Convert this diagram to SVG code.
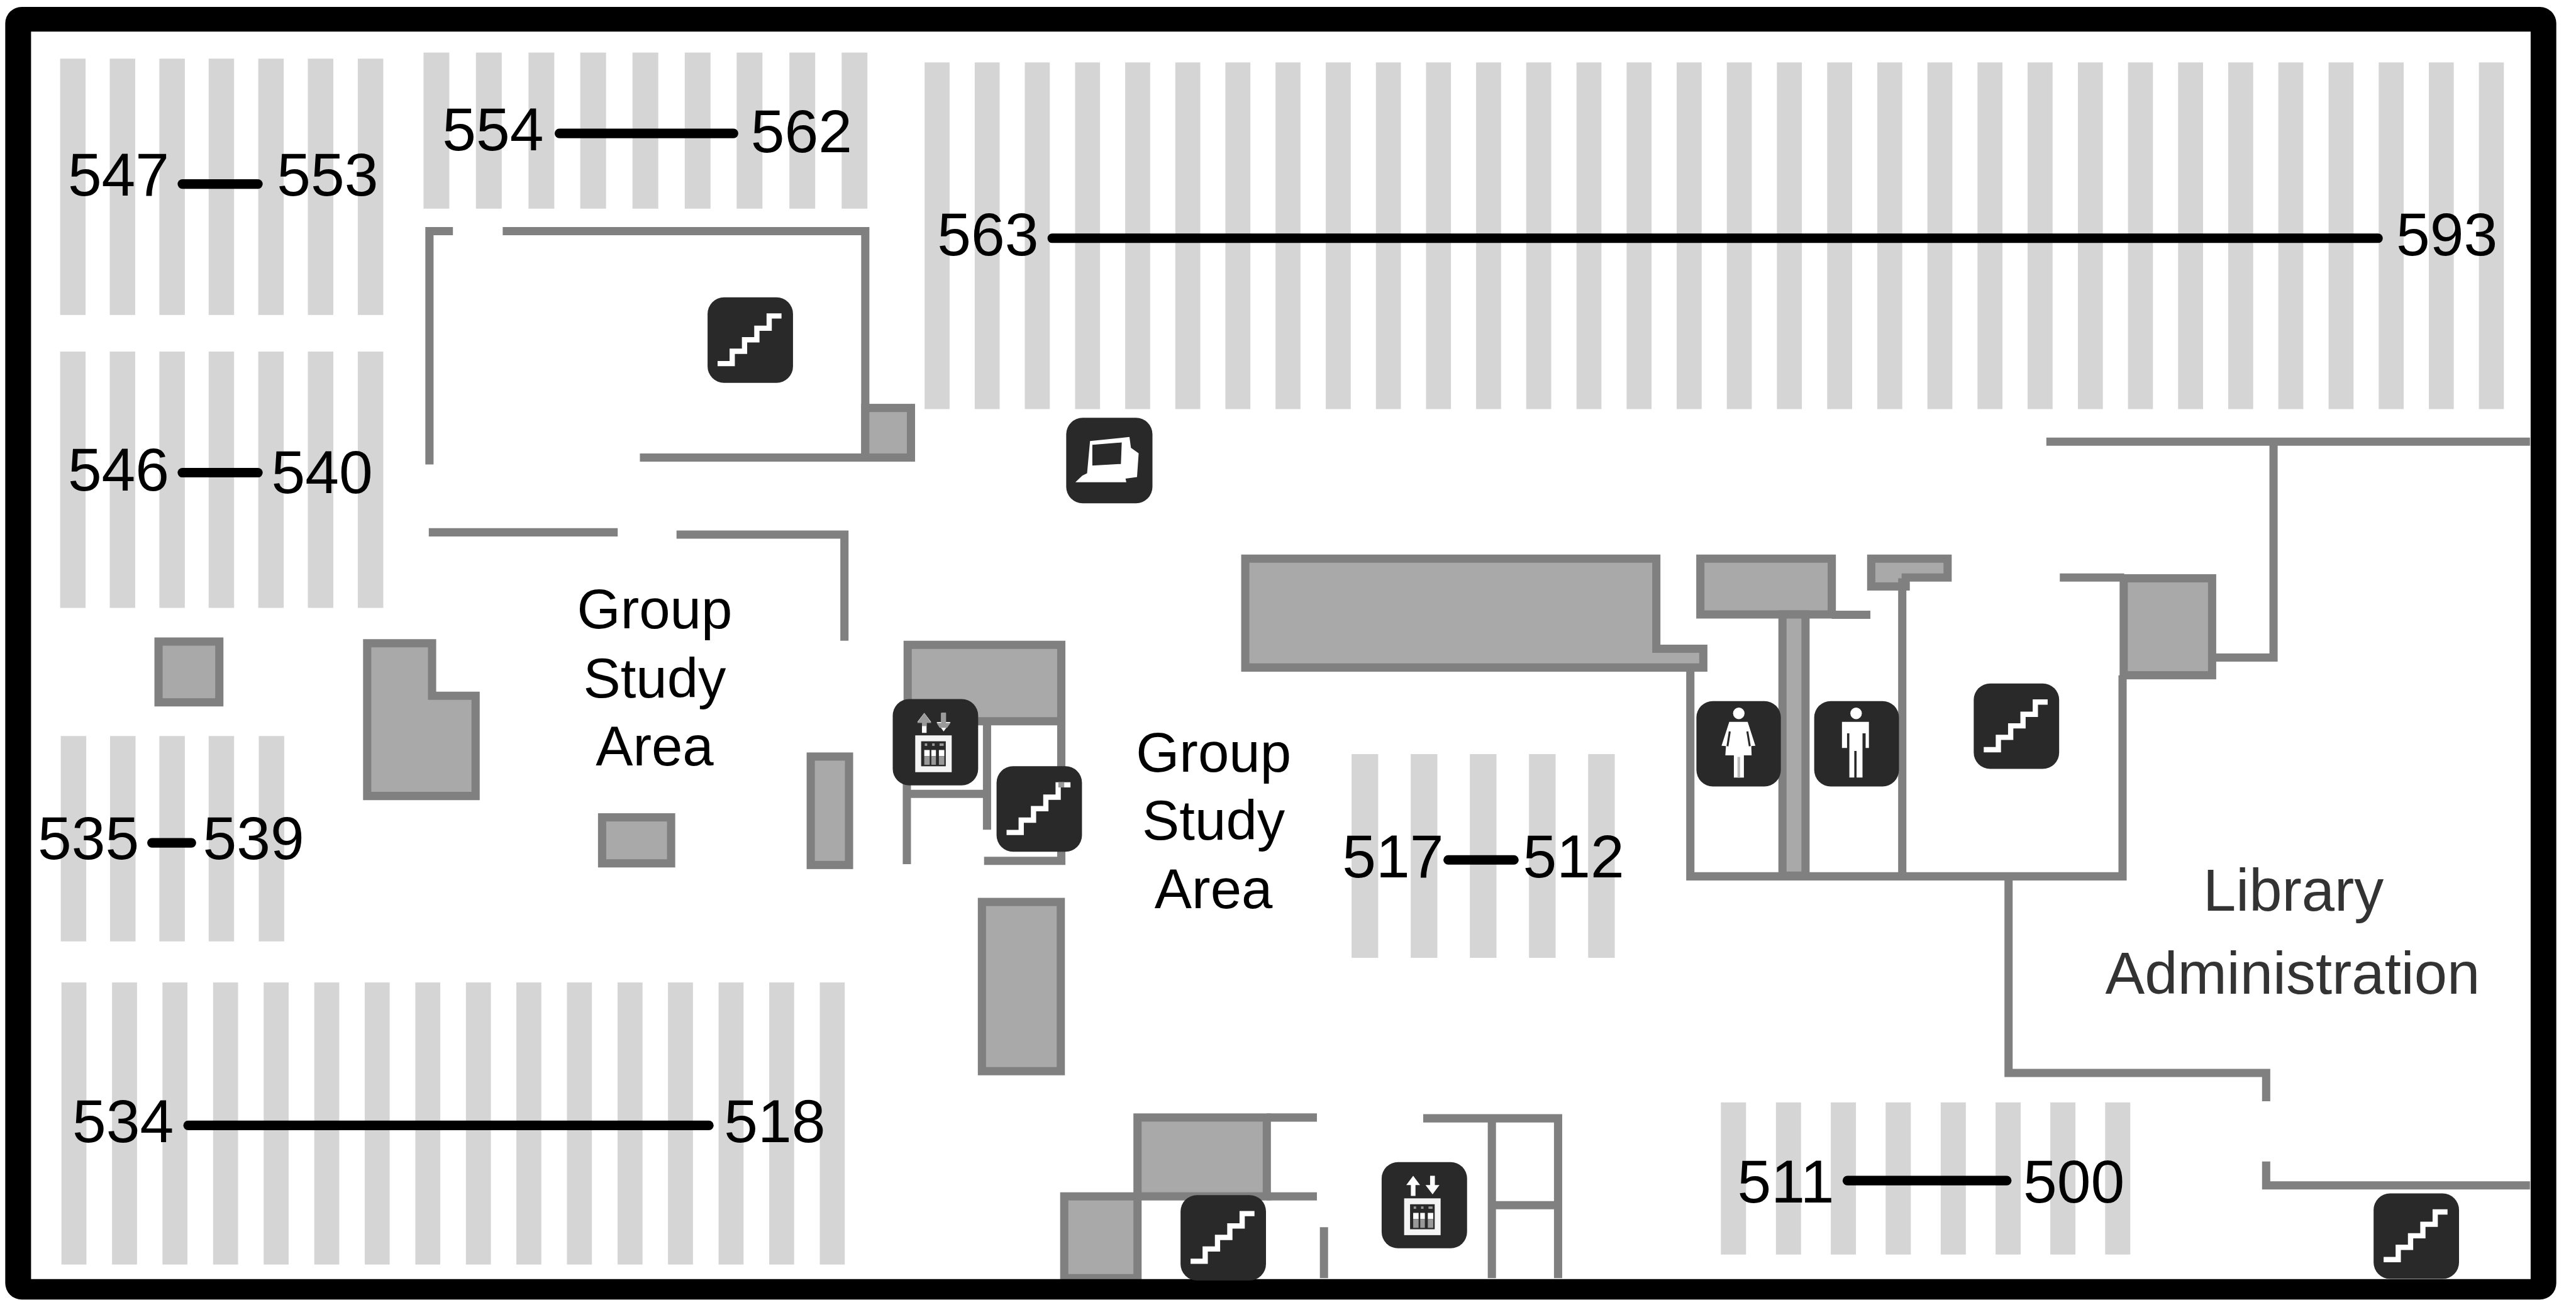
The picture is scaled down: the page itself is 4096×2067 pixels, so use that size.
<svg xmlns="http://www.w3.org/2000/svg" width="4096" height="2067" viewBox="0 0 4096 2067">
<style>
.b{fill:#d5d5d5}
.w{fill:none;stroke:#808080;stroke-width:5;stroke-linejoin:miter}
.f{fill:#a9a9a9;stroke:#808080;stroke-width:5}
.c{stroke:#000;stroke-width:5.8;stroke-linecap:round;fill:none}
.n{font-family:"Liberation Sans",Arial,sans-serif;font-size:37px;fill:#000}
.t{font-family:"Liberation Sans",Arial,sans-serif;font-size:34px;fill:#000;text-anchor:middle}
.a{font-family:"Liberation Sans",Arial,sans-serif;font-size:36px;fill:#333;text-anchor:middle}
.k{fill:#292929}
.y{fill:#fff}
</style>
<defs>
<g id="stairs"><rect class="k" width="52" height="52" rx="10"/><path d="M6.1 40.3H15V32.8H22.5V25.8H30V18.8H37.5V11.3H45" fill="none" stroke="#fff" stroke-width="3.2"/></g>
<g id="lift"><rect class="k" width="52" height="52.5" rx="10"/>
<path class="y" d="M17.8 20.6V14H15L19.2 8.4 23.4 14H20.6V20.6ZM29.5 8.4H32.4V14H35.2L31 19.7 26.7 14H29.5Z"/>
<rect x="15.5" y="23.9" width="18.6" height="18.8" fill="none" stroke="#f4f4f4" stroke-width="3.6"/>
<path class="y" d="M19.2 31H22.5V34.7H19.2ZM23.5 31H26.3V34.7H23.5ZM28.1 31H31.4V34.7H28.1Z"/>
<path fill="#999" d="M19.2 34.7H22.5V40H19.2ZM23.5 34.7H26.3V40H23.5ZM28.1 34.7H31.4V40H28.1ZM19.5 27H21V28.5H19.5ZM24 27H25.5V28.5H24ZM28.5 27H31V28.5H28.5Z"/></g>
</defs>
<rect width="4096" height="2067" fill="#fff"/>
<g id="plan" transform="scale(2.61224)">
<g id="stacks">
<g id="stack-547-553"><rect class="b" x="36.6" y="35.7" width="15.5" height="156"/><rect class="b" x="66.8" y="35.7" width="15.5" height="156"/><rect class="b" x="97" y="35.7" width="15.5" height="156"/><rect class="b" x="127" y="35.7" width="15.5" height="156"/><rect class="b" x="157.2" y="35.7" width="15.5" height="156"/><rect class="b" x="187.4" y="35.7" width="15.5" height="156"/><rect class="b" x="217.8" y="35.7" width="15.5" height="156"/></g>
<g id="stack-546-540"><rect class="b" x="36.6" y="214" width="15.5" height="156"/><rect class="b" x="66.8" y="214" width="15.5" height="156"/><rect class="b" x="97" y="214" width="15.5" height="156"/><rect class="b" x="127" y="214" width="15.5" height="156"/><rect class="b" x="157.2" y="214" width="15.5" height="156"/><rect class="b" x="187.4" y="214" width="15.5" height="156"/><rect class="b" x="217.8" y="214" width="15.5" height="156"/></g>
<g id="stack-554-562"><rect class="b" x="257.8" y="32" width="15.7" height="95"/><rect class="b" x="289.7" y="32" width="15.7" height="95"/><rect class="b" x="321.7" y="32" width="15.7" height="95"/><rect class="b" x="353.2" y="32" width="15.7" height="95"/><rect class="b" x="385" y="32" width="15.7" height="95"/><rect class="b" x="416.8" y="32" width="15.7" height="95"/><rect class="b" x="448.4" y="32" width="15.7" height="95"/><rect class="b" x="480.5" y="32" width="15.7" height="95"/><rect class="b" x="512.3" y="32" width="15.7" height="95"/></g>
<g id="stack-563-593"><rect class="b" x="562.8" y="38" width="15.2" height="211"/><rect class="b" x="593.3" y="38" width="15.2" height="211"/><rect class="b" x="623.8" y="38" width="15.2" height="211"/><rect class="b" x="654.4" y="38" width="15.2" height="211"/><rect class="b" x="684.9" y="38" width="15.2" height="211"/><rect class="b" x="715.4" y="38" width="15.2" height="211"/><rect class="b" x="745.9" y="38" width="15.2" height="211"/><rect class="b" x="776.4" y="38" width="15.2" height="211"/><rect class="b" x="807" y="38" width="15.2" height="211"/><rect class="b" x="837.5" y="38" width="15.2" height="211"/><rect class="b" x="868" y="38" width="15.2" height="211"/><rect class="b" x="898.5" y="38" width="15.2" height="211"/><rect class="b" x="929" y="38" width="15.2" height="211"/><rect class="b" x="959.6" y="38" width="15.2" height="211"/><rect class="b" x="990.1" y="38" width="15.2" height="211"/><rect class="b" x="1020.6" y="38" width="15.2" height="211"/><rect class="b" x="1051.1" y="38" width="15.2" height="211"/><rect class="b" x="1081.6" y="38" width="15.2" height="211"/><rect class="b" x="1112.2" y="38" width="15.2" height="211"/><rect class="b" x="1142.7" y="38" width="15.2" height="211"/><rect class="b" x="1173.2" y="38" width="15.2" height="211"/><rect class="b" x="1203.7" y="38" width="15.2" height="211"/><rect class="b" x="1234.2" y="38" width="15.2" height="211"/><rect class="b" x="1264.8" y="38" width="15.2" height="211"/><rect class="b" x="1295.3" y="38" width="15.2" height="211"/><rect class="b" x="1325.8" y="38" width="15.2" height="211"/><rect class="b" x="1356.3" y="38" width="15.2" height="211"/><rect class="b" x="1386.8" y="38" width="15.2" height="211"/><rect class="b" x="1417.4" y="38" width="15.2" height="211"/><rect class="b" x="1447.9" y="38" width="15.2" height="211"/><rect class="b" x="1478.4" y="38" width="15.2" height="211"/><rect class="b" x="1508.9" y="38" width="15.2" height="211"/></g>
<g id="stack-535-539"><rect class="b" x="37" y="448" width="15.5" height="125"/><rect class="b" x="67" y="448" width="15.5" height="125"/><rect class="b" x="97" y="448" width="15.5" height="125"/><rect class="b" x="127" y="448" width="15.5" height="125"/><rect class="b" x="157.5" y="448" width="15.5" height="125"/></g>
<g id="stack-534-518"><rect class="b" x="37.4" y="598" width="15.2" height="171.7"/><rect class="b" x="68.2" y="598" width="15.2" height="171.7"/><rect class="b" x="98.9" y="598" width="15.2" height="171.7"/><rect class="b" x="129.7" y="598" width="15.2" height="171.7"/><rect class="b" x="160.5" y="598" width="15.2" height="171.7"/><rect class="b" x="191.3" y="598" width="15.2" height="171.7"/><rect class="b" x="222" y="598" width="15.2" height="171.7"/><rect class="b" x="252.8" y="598" width="15.2" height="171.7"/><rect class="b" x="283.6" y="598" width="15.2" height="171.7"/><rect class="b" x="314.3" y="598" width="15.2" height="171.7"/><rect class="b" x="345.1" y="598" width="15.2" height="171.7"/><rect class="b" x="375.9" y="598" width="15.2" height="171.7"/><rect class="b" x="406.6" y="598" width="15.2" height="171.7"/><rect class="b" x="437.4" y="598" width="15.2" height="171.7"/><rect class="b" x="468.2" y="598" width="15.2" height="171.7"/><rect class="b" x="499" y="598" width="15.2" height="171.7"/></g>
<g id="stack-517-512"><rect class="b" x="822.7" y="459" width="16.2" height="124"/><rect class="b" x="858.7" y="459" width="16.2" height="124"/><rect class="b" x="894.7" y="459" width="16.2" height="124"/><rect class="b" x="930.7" y="459" width="16.2" height="124"/><rect class="b" x="966.7" y="459" width="16.2" height="124"/></g>
<g id="stack-511-500"><rect class="b" x="1047.5" y="671" width="15.3" height="92.6"/><rect class="b" x="1081" y="671" width="15.3" height="92.6"/><rect class="b" x="1114.4" y="671" width="15.3" height="92.6"/><rect class="b" x="1147.8" y="671" width="15.3" height="92.6"/><rect class="b" x="1181.3" y="671" width="15.3" height="92.6"/><rect class="b" x="1214.7" y="671" width="15.3" height="92.6"/><rect class="b" x="1248" y="671" width="15.3" height="92.6"/><rect class="b" x="1281.4" y="671" width="15.3" height="92.6"/></g>
</g>
<g id="rooms">
<path class="w" d="M261.4 282.7V140.7H275.7"/>
<path class="w" d="M306 140.7H526.7V278.5"/>
<rect class="f" x="526.7" y="248.3" width="27.8" height="30.2"/>
<path class="w" d="M389.5 278.5H527"/>
<path class="w" d="M261 324H376"/>
<path class="w" d="M411.8 325.4H514V390"/>
<rect class="f" x="96.5" y="390.5" width="37" height="37"/>
<path class="f" d="M223.5 391.5H263V423.5H289.5V484.5H223.5Z"/>
<rect class="f" x="366.5" y="497.5" width="42" height="28"/>
<rect class="f" x="493.5" y="460.5" width="23.3" height="66"/>
<rect class="f" x="552.5" y="392.5" width="93.5" height="46.5"/>
<path class="w" d="M646 439V526.3"/>
<path class="w" d="M599 524H648.5"/>
<path class="w" d="M600.8 441V505"/>
<path class="w" d="M552 439V526"/>
<path class="w" d="M552 483.2H601"/>
<rect class="f" x="597.7" y="549" width="48" height="103"/>
<path class="f" d="M647.8 778V728.2H692.4V778Z"/>
<rect class="f" x="692.4" y="680.2" width="78.7" height="48"/>
<path class="w" d="M771 680.2H801.6"/>
<path class="w" d="M771 728.2H801.6"/>
<path class="w" d="M805.9 747V778"/>
<path class="w" d="M866.3 680.7H948.4V778"/>
<path class="w" d="M908.1 680.7V778"/>
<path class="w" d="M908 733.6H948.4"/>
<path class="f" d="M758 340H1008.2V394.9H1036.8V406.3H758Z"/>
<path class="f" d="M1035 340H1115V374H1035Z"/>
<path class="w" d="M1115 374.2H1138.5"/>
<path class="f" d="M1085 374H1099V533H1085Z"/>
<path class="w" d="M1028.9 406V533.4H1292V411"/>
<path class="f" d="M1139 340H1185.5V351.5H1160V357H1139Z"/>
<path class="w" d="M1157.9 352V533.4"/>
<path class="w" d="M1253.8 351.5H1293"/>
<rect class="f" x="1292.7" y="352" width="53.8" height="59"/>
<path class="w" d="M1245.6 268.8H1540"/>
<path class="w" d="M1347.8 400.2H1383.9V268.8"/>
<path class="w" d="M1222.6 533.4V653.1H1379.4V670.3"/>
<path class="w" d="M1379.4 707V721.5H1540"/>
</g>
<g id="connectors">
<path class="c" d="M111 112H157"/>
<path class="c" d="M111 287.7H157"/>
<path class="c" d="M340.5 81.2H446.5"/>
<path class="c" d="M640.5 145H1447.5"/>
<path class="c" d="M92.5 513H116.5"/>
<path class="c" d="M114.5 685H431.5"/>
<path class="c" d="M881.5 523.4H921.5"/>
<path class="c" d="M1124.5 718.6H1221.5"/>
</g>
<g id="labels">
<text class="n" x="41.3" y="119">547</text><text class="n" x="168.5" y="119">553</text>
<text class="n" x="41.3" y="298.5">546</text><text class="n" x="165.2" y="300">540</text>
<text class="n" x="269.2" y="91.5">554</text><text class="n" x="457" y="92.5">562</text>
<text class="n" x="570.5" y="155.5">563</text><text class="n" x="1458.5" y="155.5">593</text>
<text class="n" x="23" y="523">535</text><text class="n" x="123.5" y="523">539</text>
<text class="n" x="44" y="695">534</text><text class="n" x="440.7" y="695">518</text>
<text class="n" x="817" y="534">517</text><text class="n" x="927" y="534">512</text>
<text class="n" x="1057.5" y="732">511</text><text class="n" x="1231.5" y="732">500</text>
<text class="t" x="398.5" y="382.5">Group</text><text class="t" x="398.5" y="424.5">Study</text><text class="t" x="398.5" y="466">Area</text>
<text class="t" x="738.7" y="469.6">Group</text><text class="t" x="738.7" y="511">Study</text><text class="t" x="738.7" y="552.6">Area</text>
<text class="a" x="1396" y="554.3">Library</text><text class="a" x="1395.5" y="604.7">Administration</text>
</g>
<path id="frame" fill="#000" fill-rule="evenodd" d="M13.2 4.2H1546A10 10 0 0 1 1556 14.2V781A10 10 0 0 1 1546 791H13.2A10 10 0 0 1 3.2 781V14.2A10 10 0 0 1 13.2 4.2ZM18.9 19.2V778.5H1540.4V19.2Z"/>
<g id="icons">
<use id="stairs-1" href="#stairs" x="430.7" y="181"/>
<g id="computer" transform="translate(649 254.3)"><rect class="k" width="52.5" height="52" rx="10"/><path class="y" fill-rule="evenodd" d="M14.5 14.1 38.5 11.7 39.4 18.3 44.1 21.6 43.1 36.1 36.1 37 36.6 39.2H5.6L9.8 35.2 12.7 33.8ZM15.9 16.4V29.1L33.3 28.1 33.8 15Z"/></g>
<g id="lift-1"><use href="#lift" x="543.4" y="425.5"/><path fill="#9a9a9a" d="M562.6 434 558.3 440H561.2V442H564V440H566.9ZM572.9 434H575.8V440H578.6L576.5 443H572L570.1 440H572.9Z"/></g>
<g id="stairs-2"><use href="#stairs" x="606.6" y="466.4"/><rect x="644.2" y="476.1" width="3.6" height="3.2" fill="#999"/></g>
<use id="lift-2" href="#lift" x="841" y="707.3"/>
<use id="stairs-3" href="#stairs" x="718.6" y="727.4"/>
<use id="stairs-4" href="#stairs" x="1201.4" y="416"/>
<use id="stairs-5" href="#stairs" x="1444.8" y="726.4"/>
<g id="women" transform="translate(1032.6 426.7)"><rect class="k" width="51.4" height="52" rx="10"/><circle class="y" cx="25.8" cy="7.5" r="3.5"/><path class="y" d="M20 12.7H31.2L35.9 27.2 33.4 27.4 33.6 33.1H17.6L18 27.4 15.3 27.2Z"/><path fill="none" stroke="#292929" stroke-width="1.2" d="M20.3 18.5 18.9 27.5M31 18.5 32.5 27.5"/><rect class="y" x="22.8" y="33" width="6.1" height="13.6"/><rect x="25" y="34" width="1.6" height="12.6" fill="#bbb"/></g>
<g id="men" transform="translate(1104.3 426.7)"><rect class="k" width="51.6" height="52" rx="10"/><circle class="y" cx="25.5" cy="7.5" r="3.5"/><path class="y" d="M16.9 12.7H33.3V28.6H31.3V19.7H29.4V46.6H25.8V30.4H24.4V46.6H21.4V19.7H20V28.6H16.9Z"/></g>
</g>
</g>
</svg>
